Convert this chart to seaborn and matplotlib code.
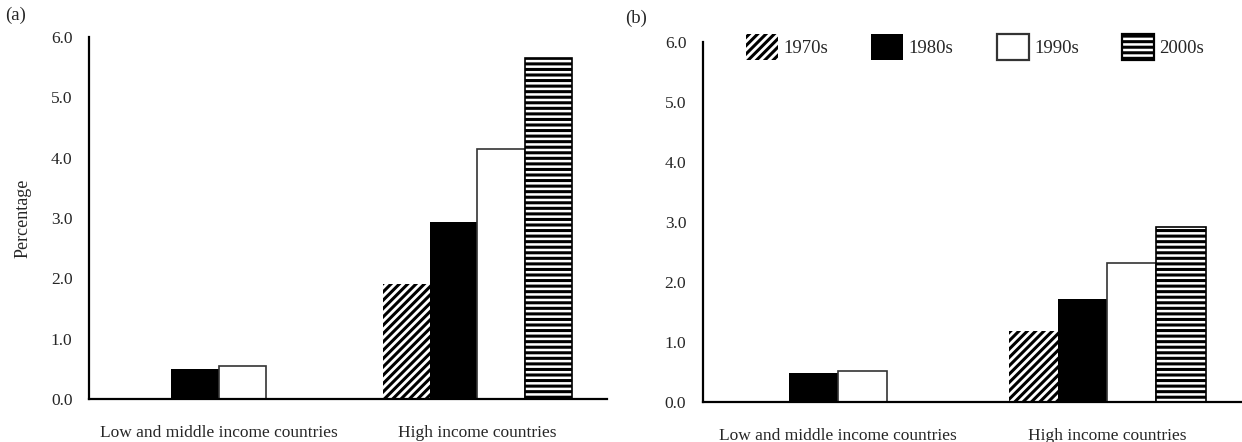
import pandas as pd
import seaborn as sns
import matplotlib.pyplot as plt
from matplotlib.patches import Patch

regions = ["Low and middle income countries", "High income countries"]
decades = ["1970s", "1980s", "1990s", "2000s"]

# values per decade: [low and middle, high]
panel_a = {
    "1970s": [0.0, 1.90],
    "1980s": [0.50, 2.94],
    "1990s": [0.54, 4.15],
    "2000s": [0.0, 5.65],
}
panel_b = {
    "1970s": [0.0, 1.19],
    "1980s": [0.48, 1.71],
    "1990s": [0.51, 2.32],
    "2000s": [0.0, 2.91],
}

sns.set_style("white")
plt.rcParams["font.family"] = ["Liberation Serif", "DejaVu Serif"]
plt.rcParams["hatch.linewidth"] = 2.2

FS = 12.5

styles = {
    "1970s": dict(facecolor="white", edgecolor="black", hatch="////", linewidth=0),
    "1980s": dict(facecolor="black", edgecolor="black", hatch=None, linewidth=0),
    "1990s": dict(facecolor="white", edgecolor="#333333", hatch=None, linewidth=1.2),
    "2000s": dict(facecolor="white", edgecolor="black", hatch="---", linewidth=1.2),
}


def to_long(panel):
    rows = []
    for d in decades:
        for r, v in zip(regions, panel[d]):
            rows.append({"region": r, "decade": d, "value": v})
    return pd.DataFrame(rows)


def draw(ax, panel, xpad):
    df = to_long(panel)
    sns.barplot(data=df, x="region", y="value", hue="decade", order=regions,
                hue_order=decades, ax=ax, width=0.73, legend=False,
                palette=["white"] * 4, errorbar=None)
    for d, cont in zip(decades, ax.containers):
        for bar in cont:
            bar.set_facecolor(styles[d]["facecolor"])
            bar.set_edgecolor(styles[d]["edgecolor"])
            bar.set_linewidth(styles[d]["linewidth"])
            if styles[d]["hatch"]:
                bar.set_hatch(styles[d]["hatch"])
            if bar.get_height() == 0:
                bar.set_visible(False)
    ax.set_ylim(0, 6)
    ax.set_xlim(-0.5, 1.5)
    ax.set_yticks([0, 1, 2, 3, 4, 5, 6])
    ax.set_yticklabels([f"{t:.1f}" for t in range(7)])
    ax.set_xlabel("")
    ax.tick_params(axis="both", length=0, labelsize=FS)
    ax.tick_params(axis="y", pad=12)
    ax.tick_params(axis="x", pad=xpad)
    for s in ["top", "right"]:
        ax.spines[s].set_visible(False)
    for s in ["left", "bottom"]:
        ax.spines[s].set_color("black")
        ax.spines[s].set_linewidth(1.6)


fig = plt.figure(figsize=(12.42, 4.42), dpi=100)
ax1 = fig.add_axes([0.0717, 0.0973, 0.417, 0.819])
ax2 = fig.add_axes([0.566, 0.0905, 0.434, 0.8145])

draw(ax1, panel_a, 19)
draw(ax2, panel_b, 18.5)
ax1.set_ylabel("Percentage", fontsize=13, labelpad=14)
ax2.set_ylabel("")

handles = [Patch(facecolor=styles[d]["facecolor"], edgecolor=styles[d]["edgecolor"],
                 hatch=styles[d]["hatch"],
                 linewidth=0 if d in ("1970s", "1980s") else 1.6, label=d)
           for d in decades]
ax2.legend(handles=handles, ncol=4, frameon=False, loc="upper center",
           bbox_to_anchor=(0.505, 1.07), fontsize=13.5, handlelength=1.7,
           handleheight=1.75, columnspacing=2.3, handletextpad=0.3)

fig.text(0.004, 0.955, "(a)", fontsize=13.5)
fig.text(0.503, 0.948, "(b)", fontsize=13.5)

plt.savefig("out.png", dpi=100)
